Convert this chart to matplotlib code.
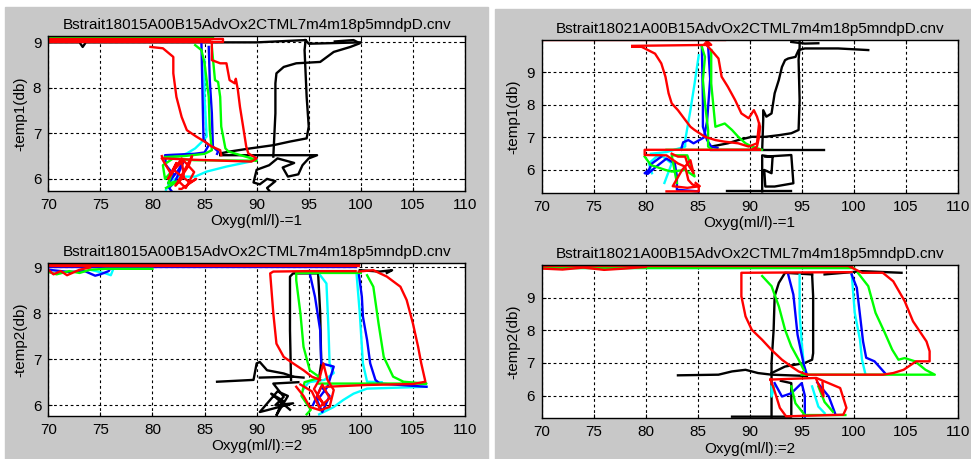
import matplotlib
matplotlib.use("Agg")
import matplotlib.pyplot as plt
from matplotlib.patches import Rectangle

plt.rcParams['font.family'] = ['Liberation Sans', 'DejaVu Sans']

# --- titles / labels ---
TITLES = ["Bstrait18015A00B15AdvOx2CTML7m4m18p5mndpD.cnv",
          "Bstrait18021A00B15AdvOx2CTML7m4m18p5mndpD.cnv",
          "Bstrait18015A00B15AdvOx2CTML7m4m18p5mndpD.cnv",
          "Bstrait18021A00B15AdvOx2CTML7m4m18p5mndpD.cnv"]
XLABELS = ["Oxyg(ml/l)-=1", "Oxyg(ml/l)-=1", "Oxyg(ml/l):=2", "Oxyg(ml/l):=2"]
YLABELS = ["-temp1(db)", "-temp1(db)", "-temp2(db)", "-temp2(db)"]
XTICKS = [70, 75, 80, 85, 90, 95, 100, 105, 110]
YTICKS = [6, 7, 8, 9]
YLIMS = [(5.74, 9.14), (5.30, 10.0), (5.77, 9.09), (5.30, 10.0)]

K, C, B, G, R = '#000000', '#00ffff', '#0000ff', '#00ff00', '#ff0000'

# --- top left: temp1 vs oxyg, file 18015 ---
tl_black_top = ([70, 73, 73.3, 73.6, 80, 90, 94.7, 95.0, 100], [9.0, 9.0, 8.9, 9.0, 9.0, 9.0, 9.05, 8.97, 9.0])
tl_black_a = ([86.5, 87.4, 89.4, 91.6, 93.2, 94.8, 95.0, 94.8, 94.6, 94.7],
              [6.56, 6.60, 6.67, 6.74, 6.82, 6.89, 7.15, 7.80, 8.83, 9.05])
tl_black_b = ([91.6, 91.8, 91.8, 91.9, 92.6, 93.8, 96.1, 97.4, 99.0, 99.9, 99.3, 97.5],
              [6.49, 7.44, 8.10, 8.32, 8.46, 8.54, 8.57, 8.79, 8.90, 8.98, 9.05, 9.02])
tl_black_c = ([86.5, 90.0, 95.8, 95.0, 94.4, 94.0, 93.0, 92.5, 93.6, 92.0, 91.2, 90.0, 89.7, 90.3, 91.0, 91.8, 91.0, 91.2],
              [6.52, 6.52, 6.52, 6.45, 6.30, 6.10, 6.05, 6.25, 6.35, 6.45, 6.30, 6.20, 5.92, 5.88, 6.00, 5.95, 5.80, 5.74])
tl_cyan_a = ([85.0, 85.0, 85.2, 84.6, 84.1, 83.3, 82.5, 81.5, 81.3],
             [8.61, 7.80, 6.93, 6.78, 6.67, 6.56, 6.50, 6.50, 6.45])
tl_cyan_b = ([81.3, 81.8, 82.6, 84.1, 85.2, 87.1, 89.4, 90.0],
             [5.76, 5.95, 6.05, 6.05, 6.16, 6.27, 6.38, 6.43])
tl_blue_a = ([84.7, 84.8, 84.9, 85.4, 85.0, 84.0, 82.0, 81.2, 81.3, 82.0, 81.5, 82.5, 83.0, 82.2, 81.6, 81.8],
             [8.98, 7.90, 6.85, 6.74, 6.58, 6.55, 6.53, 6.52, 6.30, 6.10, 5.90, 6.20, 6.40, 5.95, 5.80, 5.74])
tl_blue_b = ([85.4, 85.5, 85.7, 85.8, 86.3, 86.2], [8.90, 8.17, 7.44, 6.71, 6.60, 6.55])
tl_green_top = ([70, 85.8], [9.12, 9.12])
tl_green_a = ([84.1, 84.7, 85.0, 85.4, 85.5, 85.7, 85.0, 83.0, 81.2],
              [8.94, 8.83, 8.54, 7.80, 7.07, 6.63, 6.55, 6.50, 6.48])
tl_green_b = ([85.7, 86.0, 86.3, 86.5, 86.6, 87.0, 87.3, 89.8, 90.0, 84.0, 82.0, 81.0, 81.2, 82.0, 81.5, 82.5, 81.3],
              [8.90, 8.17, 8.13, 7.80, 7.15, 6.67, 6.60, 6.43, 6.40, 6.41, 6.45, 6.30, 6.00, 6.20, 5.90, 5.95, 5.80])
tl_red_top = ([70, 86.8, 86.8, 70, 70, 85.5], [9.08, 9.08, 9.0, 9.0, 9.04, 9.04])
tl_red_a = ([79.8, 81.0, 82.0, 82.0, 82.3, 82.8, 83.3, 84.2, 85.0, 85.7, 86.5, 86.6],
            [8.90, 8.87, 8.68, 8.32, 7.80, 7.36, 7.07, 6.93, 6.82, 6.71, 6.63, 6.52])
tl_red_b = ([85.7, 85.7, 86.5, 87.1, 87.4, 87.9, 88.0, 88.2, 88.4, 88.7, 89.0, 89.2, 90.0, 89.5, 84.0, 81.0, 80.9],
            [9.01, 8.61, 8.54, 8.54, 8.17, 8.10, 8.20, 7.95, 7.58, 7.15, 6.71, 6.56, 6.45, 6.38, 6.42, 6.45, 6.50])
tl_red_c = ([80.9, 81.8, 82.3, 81.5, 82.8, 83.0, 82.2, 83.5, 83.8, 82.5, 83.2, 84.0, 83.0, 82.0, 83.6, 84.2, 82.8, 82.6],
            [6.45, 6.10, 6.35, 6.00, 6.45, 6.05, 5.85, 6.30, 6.50, 5.95, 5.80, 6.15, 6.40, 6.20, 5.92, 6.00, 5.78, 5.78])

# --- top right: temp1 vs oxyg, file 18021 ---
tr_black_a = ([86.3, 87.9, 88.9, 90.2, 91.5, 92.8, 94.0, 94.7, 94.8, 94.7, 94.8, 94.8],
              [6.72, 6.82, 6.92, 7.02, 7.02, 7.07, 7.13, 7.23, 8.15, 9.38, 9.79, 9.94])
tr_black_b = ([91.2, 91.3, 91.3, 91.6, 92.1, 92.4, 92.8, 93.1, 93.4, 93.7, 94.4, 94.7, 95.3, 96.6, 98.5, 101.4],
              [6.62, 7.54, 7.84, 7.64, 7.74, 8.36, 8.77, 9.17, 9.38, 9.43, 9.48, 9.69, 9.74, 9.74, 9.74, 9.69])
tr_black_c = ([94.0, 95.3, 96.6], [9.94, 9.89, 9.90])
tr_black_d = ([86.3, 97.1], [6.62, 6.62])
tr_black_e = ([91.5, 94.0, 94.2, 92.4, 91.5, 91.4, 92.1, 92.2, 91.2, 91.2],
              [6.41, 6.46, 5.59, 5.49, 5.49, 6.00, 5.90, 6.40, 6.45, 5.34])
tr_black_f = ([87.8, 94.0], [5.34, 5.34])
tr_cyan_a = ([85.1, 84.7, 84.3, 83.8, 83.8, 82.0, 80.5], [9.53, 8.66, 7.84, 6.92, 6.72, 6.55, 6.50])
tr_cyan_b = ([80.6, 80.3, 81.0, 81.5, 82.5, 81.8], [5.90, 6.20, 6.40, 6.45, 6.20, 5.60])
tr_blue_a = ([85.4, 85.5, 85.5, 85.9, 86.3, 86.9], [9.79, 8.15, 7.33, 6.92, 6.72, 6.68])
tr_blue_b = ([86.0, 86.2, 85.9, 85.6, 84.6, 84.1, 83.6, 83.4], [9.82, 8.80, 7.50, 7.00, 6.82, 6.92, 6.85, 6.62])
tr_blue_c = ([81.5, 80.6, 80.3, 79.9, 80.2, 81.0, 82.0, 82.8, 83.0, 83.0, 85.1],
             [6.41, 6.20, 6.00, 5.90, 5.88, 6.10, 6.35, 6.20, 5.80, 5.39, 5.34])
tr_green_a = ([85.4, 85.7, 85.5, 85.7, 86.0, 86.0, 86.3], [9.79, 9.48, 8.77, 8.05, 7.23, 6.72, 6.65])
tr_green_b = ([86.3, 86.3, 86.7, 87.6, 88.3, 88.9, 89.6, 90.2, 91.2, 82.0],
              [9.69, 8.66, 7.33, 7.43, 7.23, 7.02, 6.82, 6.72, 6.62, 6.62])
tr_green_c = ([79.9, 80.5, 81.9, 82.5, 83.8, 84.7, 84.0, 82.5, 83.0],
              [6.41, 6.15, 6.00, 5.95, 6.00, 5.80, 6.45, 6.45, 5.60])
tr_red_top = ([70, 87.6], [10.0, 10.0])
tr_red_c = ([78.7, 86.3, 85.8, 85.9], [9.82, 9.85, 10.0, 9.85])
tr_red_a = ([78.7, 79.6, 80.9, 81.5, 81.9, 82.2, 82.5, 83.1, 83.8, 84.3, 84.7, 85.7, 86.7, 87.6, 88.9, 89.9, 90.7, 90.8, 90.9],
            [9.79, 9.79, 9.58, 9.28, 8.87, 8.36, 8.05, 7.84, 7.54, 7.33, 7.23, 7.02, 6.92, 6.87, 6.82, 6.72, 6.82, 7.13, 7.43])
tr_red_b = ([85.7, 86.3, 87.0, 87.3, 87.9, 88.6, 89.2, 89.9, 90.4, 90.7, 91.0, 90.9, 90.7, 90.2, 91.0, 79.9, 79.9,
             82.0, 83.1, 83.8, 84.1, 84.5, 85.1, 85.1, 82.0],
            [9.89, 9.69, 9.43, 8.87, 8.56, 8.15, 7.74, 7.59, 7.84, 7.64, 7.33, 7.02, 6.72, 6.62, 6.62, 6.62, 6.46,
             6.45, 6.20, 6.10, 5.69, 5.55, 5.49, 5.34, 5.34])
tr_red_d = ([82.5, 83.1, 83.8, 84.0, 84.6, 84.3, 83.5, 82.6, 84.0, 85.2, 84.8],
            [6.50, 6.41, 6.41, 6.20, 5.90, 6.30, 6.00, 5.50, 5.45, 5.50, 5.60])

# --- bottom left: temp2 vs oxyg, file 18015 ---
bl_black_a = ([93.3, 93.2, 93.2, 93.5, 94.8, 95.9, 96.1, 96.2, 96.0], [6.55, 7.63, 8.80, 8.87, 8.87, 8.87, 8.00, 6.91, 6.60])
bl_black_b = ([86.2, 89.7, 90.0, 90.3, 91.0, 92.6, 93.5, 94.5], [6.51, 6.55, 6.91, 6.94, 6.76, 6.69, 6.62, 6.60])
bl_black_c = ([90.3, 93.5], [6.60, 6.62])
bl_black_d = ([94.0, 91.6, 92.6, 91.8, 93.5, 91.0, 90.3, 92.0, 93.0, 91.9, 92.5, 91.4, 93.2],
              [6.50, 6.47, 6.18, 6.00, 6.04, 5.89, 5.85, 6.30, 6.20, 5.78, 6.10, 6.25, 5.90])
bl_black_e = ([99.9, 101.8, 103.0, 102.5], [8.94, 8.91, 8.94, 8.88])
bl_cyan_left = ([74.0, 75.5, 76.0, 76.3], [8.95, 8.87, 8.83, 9.00])
bl_cyan_a = ([96.1, 96.7, 96.9, 97.0, 97.4, 96.5, 95.0, 94.5], [8.83, 8.65, 7.63, 6.91, 6.70, 6.55, 6.50, 6.35])
bl_cyan_b = ([99.6, 99.9, 100.2, 100.6, 102.0], [8.83, 8.00, 6.91, 6.51, 6.50])
bl_cyan_c = ([96.0, 97.4, 98.3, 99.3, 100.6, 106.3], [5.80, 5.96, 6.11, 6.25, 6.36, 6.40])
bl_blue_top = ([70, 99.5], [9.0, 9.0])
bl_blue_left = ([70, 72.0, 73.5, 74.5, 75.0, 75.8, 76.0], [8.95, 8.90, 8.92, 8.82, 8.85, 8.92, 9.00])
bl_blue_a = ([95.1, 95.6, 96.1, 96.2, 97.4, 96.8, 95.8, 96.3, 97.0, 96.2, 95.4],
             [8.87, 8.36, 7.63, 6.91, 6.84, 6.40, 6.10, 5.85, 6.20, 6.40, 6.00])
bl_blue_b = ([99.8, 100.1, 100.2, 100.6, 100.9, 101.4, 101.8, 106.3], [8.87, 8.36, 7.93, 7.42, 6.91, 6.55, 6.47, 6.40])
bl_green_left = ([70, 70.8, 72.0, 73.0, 74.0, 75.5, 80.0], [8.90, 8.85, 8.92, 8.88, 8.95, 8.97, 8.97])
bl_green_a = ([100.0, 93.8, 93.8, 94.2, 94.5, 95.1, 96.1, 94.6, 94.3, 95.2, 94.8],
              [8.88, 8.88, 8.72, 8.00, 7.27, 6.76, 6.60, 6.50, 6.20, 5.90, 5.80])
bl_green_b = ([100.6, 101.2, 101.7, 102.2, 103.1, 104.1, 106.3, 96.0], [8.83, 8.58, 7.78, 7.05, 6.62, 6.51, 6.47, 6.47])
bl_red_top = ([70, 99.8, 99.8, 70], [9.03, 9.03, 9.07, 9.07])
bl_red_left = ([70, 70.5, 71.2, 71.8, 72.5, 73.0, 74.0], [8.95, 8.85, 8.92, 8.83, 8.90, 8.95, 9.00])
bl_red_a = ([99.8, 101.2, 102.5, 103.8, 104.4, 105.0, 105.5, 105.8, 106.2, 105.0, 100.6, 96.7],
            [8.91, 8.94, 8.80, 8.58, 8.29, 7.78, 7.27, 6.91, 6.51, 6.46, 6.44, 6.40])
bl_red_b = ([99.5, 95.0, 91.6, 91.3, 91.6, 91.9, 92.6, 93.5, 94.5, 95.3, 96.1],
            [8.92, 8.92, 8.91, 8.87, 8.00, 7.34, 7.05, 6.91, 6.76, 6.62, 6.55])
bl_red_c = ([93.8, 94.5, 95.1, 96.1, 97.0, 97.4, 96.8, 96.4, 96.0, 95.5, 96.5, 95.8, 96.3, 97.0, 96.0, 95.3, 94.2],
            [6.40, 6.20, 5.96, 5.89, 5.96, 6.33, 6.55, 6.91, 6.55, 6.35, 6.00, 6.20, 6.45, 6.15, 5.95, 6.30, 6.45])

# --- bottom right: temp2 vs oxyg, file 18021 ---
br_black_a = ([96.0, 96.1, 96.1, 96.0, 95.3, 93.4, 92.1], [9.72, 9.05, 7.30, 7.10, 7.00, 6.89, 6.69])
br_black_b = ([96.0, 93.4, 92.8, 92.4, 92.3, 92.1, 92.1], [9.72, 9.77, 9.46, 9.05, 8.02, 7.00, 5.35])
br_black_c = ([83.1, 87.0, 88.3, 89.6, 90.8, 92.1, 95.5], [6.62, 6.64, 6.74, 6.79, 6.69, 6.64, 6.60])
br_black_d = ([88.3, 94.0, 94.0, 93.0], [5.35, 5.35, 6.38, 6.45])
br_black_e = ([97.2, 99.8, 100.8, 104.6], [9.72, 9.79, 9.82, 9.77])
br_cyan_top = ([70, 99.5], [9.93, 9.93])
br_cyan_a = ([94.8, 94.8, 95.0, 95.3], [9.72, 8.54, 7.61, 6.64])
br_cyan_b = ([99.8, 100.1, 100.6, 100.8, 101.1], [9.77, 8.54, 7.72, 7.10, 6.69])
br_cyan_c = ([92.1, 92.1, 92.4], [6.28, 5.97, 6.30])
br_cyan_d = ([96.0, 96.6, 97.2], [6.28, 5.66, 5.46])
br_blue_top = ([70, 99.5], [9.95, 9.95])
br_blue_a = ([93.7, 94.2, 94.6, 95.2, 95.5], [9.72, 9.10, 7.87, 6.95, 6.64])
br_blue_b = ([99.8, 100.3, 100.9, 101.2, 102.0, 103.0], [9.72, 9.31, 7.66, 7.16, 7.05, 6.69])
br_blue_c = ([92.4, 93.1, 94.0, 95.0, 95.3, 95.3], [6.38, 5.97, 6.07, 6.38, 6.00, 5.35])
br_blue_d = ([96.5, 97.6, 98.2], [6.40, 5.97, 5.46])
br_green_top = ([70, 100], [9.91, 9.91])
br_green_a = ([91.2, 92.1, 92.8, 93.4, 94.0, 94.7, 95.2], [9.67, 9.36, 8.74, 8.02, 7.51, 7.10, 6.79])
br_green_b = ([100.4, 101.4, 102.1, 103.0, 103.7, 104.3, 104.9, 105.9, 106.9, 107.8, 95.0],
              [9.77, 9.36, 8.54, 7.92, 7.41, 7.10, 7.15, 7.05, 6.79, 6.64, 6.64])
br_green_c = ([94.0, 94.4, 95.3, 99.2], [6.28, 5.76, 5.40, 5.40])
br_green_d = ([96.6, 97.2, 98.0], [6.28, 5.80, 5.50])
br_red_top = ([70, 99.8], [9.98, 9.98])
br_red_left = ([70, 72, 74, 76, 78, 80], [9.90, 9.87, 9.93, 9.86, 9.90, 9.95])
br_red_a = ([99.5, 100.8, 102.8, 103.8, 104.9, 105.7, 107.0, 107.3, 107.3, 106.0, 104.8, 103.8, 102.8, 95.5],
            [9.98, 9.77, 9.77, 9.51, 8.90, 8.28, 7.66, 7.36, 7.05, 7.05, 6.79, 6.69, 6.64, 6.64])
br_red_b = ([99.8, 89.2, 89.2, 89.6, 90.2, 91.2, 92.1, 93.1, 94.0, 94.7, 95.5],
            [9.79, 9.77, 9.05, 8.43, 8.02, 7.71, 7.40, 7.10, 6.89, 6.74, 6.64])
br_red_c = ([92.0, 96.4, 98.7, 99.3, 99.0, 93.5, 92.9, 92.3, 92.0], [6.49, 6.54, 6.23, 5.62, 5.41, 5.36, 5.62, 6.23, 6.49])
br_red_d = ([96.4, 97.1, 97.0], [6.50, 5.97, 6.40])

PANELS = [
    [(K, tl_black_top), (K, tl_black_a), (K, tl_black_b), (K, tl_black_c),
     (C, tl_cyan_a), (C, tl_cyan_b), (B, tl_blue_a), (B, tl_blue_b),
     (G, tl_green_top), (G, tl_green_a), (G, tl_green_b),
     (R, tl_red_top), (R, tl_red_a), (R, tl_red_b), (R, tl_red_c)],
    [(K, tr_black_a), (K, tr_black_b), (K, tr_black_c), (K, tr_black_d), (K, tr_black_e), (K, tr_black_f),
     (C, tr_cyan_a), (C, tr_cyan_b), (B, tr_blue_a), (B, tr_blue_b), (B, tr_blue_c),
     (G, tr_green_a), (G, tr_green_b), (G, tr_green_c),
     (R, tr_red_top), (R, tr_red_c), (R, tr_red_a), (R, tr_red_b), (R, tr_red_d)],
    [(K, bl_black_a), (K, bl_black_b), (K, bl_black_c), (K, bl_black_d), (K, bl_black_e),
     (C, bl_cyan_left), (C, bl_cyan_a), (C, bl_cyan_b), (C, bl_cyan_c),
     (B, bl_blue_top), (B, bl_blue_left), (B, bl_blue_a), (B, bl_blue_b),
     (G, bl_green_left), (G, bl_green_a), (G, bl_green_b),
     (R, bl_red_top), (R, bl_red_left), (R, bl_red_a), (R, bl_red_b), (R, bl_red_c)],
    [(K, br_black_a), (K, br_black_b), (K, br_black_c), (K, br_black_d), (K, br_black_e),
     (C, br_cyan_top), (C, br_cyan_a), (C, br_cyan_b), (C, br_cyan_c), (C, br_cyan_d),
     (B, br_blue_top), (B, br_blue_a), (B, br_blue_b), (B, br_blue_c), (B, br_blue_d),
     (G, br_green_top), (G, br_green_a), (G, br_green_b), (G, br_green_c), (G, br_green_d),
     (R, br_red_top), (R, br_red_left), (R, br_red_a), (R, br_red_b), (R, br_red_c), (R, br_red_d)],
]

W, H = 971, 459
fig = plt.figure(figsize=(W / 100, H / 100), dpi=100, facecolor='white')

# grey figure windows (two screenshots side by side)
for x0, y0, x1 in [(5, 7, 488), (495, 9, 971)]:
    fig.patches.append(Rectangle((x0 / W, 0), (x1 - x0) / W, 1 - y0 / H,
                                 transform=fig.transFigure, color='#c8c8c8', zorder=-10))

# axes boxes in pixels: left, top, right, bottom
BOXES = [(48.3, 36.0, 465.0, 190.7), (541.7, 40.0, 957.7, 192.7),
         (48.3, 263.3, 465.0, 415.7), (541.7, 265.3, 957.7, 418.3)]

for i, (l, t, r, b) in enumerate(BOXES):
    ax = fig.add_axes([l / W, 1 - b / H, (r - l) / W, (b - t) / H])
    ax.set_facecolor('white')
    for col, (xs, ys) in PANELS[i]:
        ax.plot(xs, ys, color=col, lw=1.7)
    ax.set_xlim(70, 110)
    ax.set_ylim(*YLIMS[i])
    ax.set_xticks(XTICKS)
    ax.set_yticks(YTICKS)
    ax.grid(True, color='black', linestyle=(0, (2.5, 2.5)), lw=0.8)
    ax.tick_params(direction='in', length=3, labelsize=11, top=True, right=True, pad=5)
    for s in ax.spines.values():
        s.set_linewidth(1.0)
    ax.set_title(TITLES[i], fontsize=11, pad=5)
    ax.set_xlabel(XLABELS[i], fontsize=11, labelpad=2)
    ax.set_ylabel(YLABELS[i], fontsize=11, labelpad=4)

fig.savefig('out.png', dpi=100, facecolor='white')
